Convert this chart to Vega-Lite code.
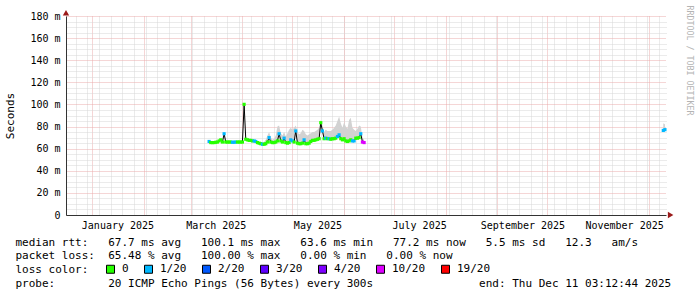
{
  "$schema": "https://vega.github.io/schema/vega-lite/v6.json",
  "width": 600,
  "height": 199,
  "autosize": {"type": "none"},
  "padding": {"left": 66, "top": 16, "right": 31, "bottom": 82},
  "background": "white",
  "config": {
    "view": {"stroke": null},
    "font": "DejaVu Sans Mono",
    "axis": {"labelFont": "DejaVu Sans Mono", "titleFont": "DejaVu Sans Mono", "titleFontWeight": "normal", "labelColor": "black", "titleColor": "black"}
  },
  "datasets": {
    "rtt": [
      {"t": "2025-03-12", "med": 66.5, "loss": "1/20", "hi": 67.5},
      {"t": "2025-03-13", "med": 65.5, "loss": "0", "hi": 66.5},
      {"t": "2025-03-14", "med": 65.5, "loss": "0", "hi": 66.5},
      {"t": "2025-03-15", "med": 65.5, "loss": "0", "hi": 66.5},
      {"t": "2025-03-16", "med": 65.8, "loss": "0", "hi": 66.8},
      {"t": "2025-03-17", "med": 66, "loss": "0", "hi": 67},
      {"t": "2025-03-18", "med": 67, "loss": "0", "hi": 68},
      {"t": "2025-03-19", "med": 68, "loss": "0", "hi": 69},
      {"t": "2025-03-20", "med": 66, "loss": "0", "hi": 67},
      {"t": "2025-03-21", "med": 73.5, "loss": "1/20", "hi": 75},
      {"t": "2025-03-22", "med": 66, "loss": "0", "hi": 67},
      {"t": "2025-03-23", "med": 66, "loss": "0", "hi": 67},
      {"t": "2025-03-24", "med": 66, "loss": "0", "hi": 67},
      {"t": "2025-03-25", "med": 66, "loss": "0", "hi": 67},
      {"t": "2025-03-26", "med": 65.8, "loss": "1/20", "hi": 67},
      {"t": "2025-03-27", "med": 65.8, "loss": "1/20", "hi": 67},
      {"t": "2025-03-28", "med": 66, "loss": "1/20", "hi": 67},
      {"t": "2025-03-29", "med": 66, "loss": "0", "hi": 67},
      {"t": "2025-03-30", "med": 66, "loss": "0", "hi": 67},
      {"t": "2025-03-31", "med": 66, "loss": "0", "hi": 67},
      {"t": "2025-04-01", "med": 66, "loss": "0", "hi": 67},
      {"t": "2025-04-02", "med": 100.1, "loss": "0", "hi": 101},
      {"t": "2025-04-03", "med": 68.5, "loss": "0", "hi": 69.5},
      {"t": "2025-04-04", "med": 68, "loss": "0", "hi": 69},
      {"t": "2025-04-05", "med": 67.5, "loss": "0", "hi": 68.5},
      {"t": "2025-04-06", "med": 67.5, "loss": "0", "hi": 68.5},
      {"t": "2025-04-07", "med": 67, "loss": "0", "hi": 68},
      {"t": "2025-04-08", "med": 67, "loss": "1/20", "hi": 68},
      {"t": "2025-04-09", "med": 66.5, "loss": "1/20", "hi": 67.5},
      {"t": "2025-04-10", "med": 65.5, "loss": "0", "hi": 66.5},
      {"t": "2025-04-11", "med": 65, "loss": "0", "hi": 66},
      {"t": "2025-04-12", "med": 64.5, "loss": "0", "hi": 65.5},
      {"t": "2025-04-13", "med": 64, "loss": "1/20", "hi": 66},
      {"t": "2025-04-14", "med": 64, "loss": "0", "hi": 66},
      {"t": "2025-04-15", "med": 64.5, "loss": "0", "hi": 68},
      {"t": "2025-04-16", "med": 66, "loss": "0", "hi": 72},
      {"t": "2025-04-17", "med": 70, "loss": "1/20", "hi": 75},
      {"t": "2025-04-18", "med": 66, "loss": "0", "hi": 70},
      {"t": "2025-04-19", "med": 65.5, "loss": "0", "hi": 68},
      {"t": "2025-04-20", "med": 65.5, "loss": "0", "hi": 69},
      {"t": "2025-04-21", "med": 66, "loss": "0", "hi": 72},
      {"t": "2025-04-22", "med": 67, "loss": "0", "hi": 80},
      {"t": "2025-04-23", "med": 73.5, "loss": "1/20", "hi": 81},
      {"t": "2025-04-24", "med": 67, "loss": "0", "hi": 74},
      {"t": "2025-04-25", "med": 66, "loss": "0", "hi": 72},
      {"t": "2025-04-26", "med": 69.5, "loss": "1/20", "hi": 75},
      {"t": "2025-04-27", "med": 65.5, "loss": "0", "hi": 71},
      {"t": "2025-04-28", "med": 65, "loss": "0", "hi": 74},
      {"t": "2025-04-29", "med": 65.5, "loss": "0", "hi": 77},
      {"t": "2025-04-30", "med": 68, "loss": "1/20", "hi": 79},
      {"t": "2025-05-01", "med": 67, "loss": "1/20", "hi": 77},
      {"t": "2025-05-02", "med": 66, "loss": "0", "hi": 79},
      {"t": "2025-05-03", "med": 76, "loss": "1/20", "hi": 81},
      {"t": "2025-05-04", "med": 65, "loss": "0", "hi": 75},
      {"t": "2025-05-05", "med": 64.5, "loss": "0", "hi": 73},
      {"t": "2025-05-06", "med": 64.5, "loss": "0", "hi": 74},
      {"t": "2025-05-07", "med": 65, "loss": "0", "hi": 77},
      {"t": "2025-05-08", "med": 68, "loss": "1/20", "hi": 76},
      {"t": "2025-05-09", "med": 64.5, "loss": "0", "hi": 73},
      {"t": "2025-05-10", "med": 64.5, "loss": "0", "hi": 72},
      {"t": "2025-05-11", "med": 65, "loss": "0", "hi": 73},
      {"t": "2025-05-12", "med": 66.5, "loss": "0", "hi": 74},
      {"t": "2025-05-13", "med": 67.5, "loss": "0", "hi": 75},
      {"t": "2025-05-14", "med": 67.5, "loss": "0", "hi": 75},
      {"t": "2025-05-15", "med": 68, "loss": "0", "hi": 76},
      {"t": "2025-05-16", "med": 68.5, "loss": "0", "hi": 77},
      {"t": "2025-05-17", "med": 69, "loss": "0", "hi": 79},
      {"t": "2025-05-18", "med": 83.5, "loss": "0", "hi": 86},
      {"t": "2025-05-19", "med": 76, "loss": "1/20", "hi": 81},
      {"t": "2025-05-20", "med": 69, "loss": "0", "hi": 75},
      {"t": "2025-05-21", "med": 69.5, "loss": "1/20", "hi": 77},
      {"t": "2025-05-22", "med": 69, "loss": "0", "hi": 76},
      {"t": "2025-05-23", "med": 69, "loss": "1/20", "hi": 76},
      {"t": "2025-05-24", "med": 68.5, "loss": "0", "hi": 76},
      {"t": "2025-05-25", "med": 69, "loss": "0", "hi": 77},
      {"t": "2025-05-26", "med": 69, "loss": "0", "hi": 79},
      {"t": "2025-05-27", "med": 69.5, "loss": "0", "hi": 81},
      {"t": "2025-05-28", "med": 71, "loss": "1/20", "hi": 85},
      {"t": "2025-05-29", "med": 72.5, "loss": "1/20", "hi": 89},
      {"t": "2025-05-30", "med": 69, "loss": "0", "hi": 83},
      {"t": "2025-05-31", "med": 68, "loss": "0", "hi": 79},
      {"t": "2025-06-01", "med": 69, "loss": "0", "hi": 84},
      {"t": "2025-06-02", "med": 67, "loss": "0", "hi": 80},
      {"t": "2025-06-03", "med": 66.5, "loss": "0", "hi": 78},
      {"t": "2025-06-04", "med": 67, "loss": "0", "hi": 86},
      {"t": "2025-06-05", "med": 68, "loss": "0", "hi": 88},
      {"t": "2025-06-06", "med": 67, "loss": "1/20", "hi": 79},
      {"t": "2025-06-07", "med": 67, "loss": "1/20", "hi": 77},
      {"t": "2025-06-08", "med": 69.5, "loss": "0", "hi": 76},
      {"t": "2025-06-09", "med": 69.5, "loss": "0", "hi": 78},
      {"t": "2025-06-10", "med": 70, "loss": "0", "hi": 81},
      {"t": "2025-06-11", "med": 73.5, "loss": "1/20", "hi": 80},
      {"t": "2025-06-12", "med": 66, "loss": "10/20", "hi": 70},
      {"t": "2025-06-13", "med": 65.5, "loss": "10/20", "hi": 68},
      {"t": "2025-09-01", "med": null, "loss": null, "hi": null},
      {"t": "2025-12-09T12:00:00Z", "med": 76.5, "loss": "1/20", "hi": 83},
      {"t": "2025-12-10T12:00:00Z", "med": 77.2, "loss": "1/20", "hi": 82}
    ]
  },
  "resolve": {"axis": {"x": "independent", "y": "independent"}},
  "layer": [
    {
      "data": {"name": "rtt"},
      "mark": {"type": "area", "color": "#d2d2d2", "invalid": "break-paths-filter-domains"},
      "encoding": {
        "x": {
          "field": "t", "type": "temporal",
          "scale": {"type": "utc", "domain": [{"year": 2024, "month": 12, "date": 16, "hours": 3, "minutes": 12, "seconds": 44, "utc": true}, {"year": 2025, "month": 12, "date": 11, "hours": 3, "minutes": 12, "seconds": 44, "utc": true}]},
          "axis": {"orient": "top", "grid": true, "gridColor": "#d6d6d6", "gridDash": [1, 1], "gridWidth": 1, "tickCount": {"interval": "week", "step": 1}, "labels": false, "ticks": false, "domain": false, "title": null}
        },
        "y": {
          "field": "med", "type": "quantitative",
          "scale": {"domain": [0, 180], "nice": false, "zero": false},
          "axis": {"orient": "right", "values": [5,10,15,25,30,35,45,50,55,65,70,75,85,90,95,105,110,115,125,130,135,145,150,155,165,170,175], "grid": true, "gridColor": "#d6d6d6", "gridDash": [1, 1], "labels": false, "ticks": false, "domain": false,
                   "title": "RRDTOOL / TOBI OETIKER", "titleAngle": 90, "titleFontSize": 8.3, "titleColor": "#b4b4b4", "titleAlign": "left", "titleBaseline": "middle", "titleX": 22, "titleY": -11}
        },
        "y2": {"field": "hi"}
      }
    },
    {
      "data": {"name": "rtt"},
      "mark": {"type": "line", "color": "black", "strokeWidth": 1, "invalid": "break-paths-filter-domains"},
      "encoding": {
        "x": {
          "field": "t", "type": "temporal",
          "scale": {"type": "utc", "domain": [{"year": 2024, "month": 12, "date": 16, "hours": 3, "minutes": 12, "seconds": 44, "utc": true}, {"year": 2025, "month": 12, "date": 11, "hours": 3, "minutes": 12, "seconds": 44, "utc": true}]},
          "axis": {"orient": "top", "grid": true, "gridColor": "#eaacac", "gridDash": [1, 1], "gridWidth": 1, "tickCount": {"interval": "month", "step": 1}, "labels": false, "ticks": false, "domain": false, "title": null}
        },
        "y": {
          "field": "med", "type": "quantitative",
          "scale": {"domain": [0, 180], "nice": false, "zero": false},
          "axis": {"orient": "left", "values": [0,20,40,60,80,100,120,140,160,180], "grid": true, "gridColor": "#eaacac", "gridDash": [1, 1],
                   "labelExpr": "datum.value == 0 ? '0' : datum.value + ' m'", "labelFontSize": 10, "labelPadding": 6, "ticks": false,
                   "domain": true, "domainColor": "#333333", "domainWidth": 1,
                   "title": "Seconds", "titleFontSize": 11, "titlePadding": 14}
        }
      }
    },
    {
      "data": {"name": "rtt"},
      "mark": {"type": "point", "shape": "square", "filled": true, "size": 10, "opacity": 1},
      "encoding": {
        "x": {
          "field": "t", "type": "temporal",
          "scale": {"type": "utc", "domain": [{"year": 2024, "month": 12, "date": 16, "hours": 3, "minutes": 12, "seconds": 44, "utc": true}, {"year": 2025, "month": 12, "date": 11, "hours": 3, "minutes": 12, "seconds": 44, "utc": true}]},
          "axis": {"orient": "bottom", "grid": false,
                   "values": [{"year": 2025, "month": 1, "date": 16, "utc": true}, {"year": 2025, "month": 3, "date": 16, "utc": true}, {"year": 2025, "month": 5, "date": 16, "utc": true}, {"year": 2025, "month": 7, "date": 16, "utc": true}, {"year": 2025, "month": 9, "date": 16, "utc": true}, {"year": 2025, "month": 11, "date": 16, "utc": true}],
                   "labelExpr": "utcFormat(datum.value, '%B %Y')", "labelFontSize": 10, "labelPadding": 5, "ticks": false, "labelFlush": false, "labelOverlap": false,
                   "domain": true, "domainColor": "#333333", "domainWidth": 1,
                   "title": ["median\u00a0rtt:\u00a0\u00a0\u00a067.7\u00a0ms\u00a0avg\u00a0\u00a0\u00a0100.1\u00a0ms\u00a0max\u00a0\u00a0\u00a063.6\u00a0ms\u00a0min\u00a0\u00a0\u00a077.2\u00a0ms\u00a0now\u00a0\u00a0\u00a05.5\u00a0ms\u00a0sd\u00a0\u00a0\u00a012.3\u00a0\u00a0\u00a0am/s",
                             "packet\u00a0loss:\u00a0\u00a065.48\u00a0%\u00a0avg\u00a0\u00a0\u00a0100.00\u00a0%\u00a0max\u00a0\u00a0\u00a00.00\u00a0%\u00a0min\u00a0\u00a0\u00a00.00\u00a0%\u00a0now",
                             "loss\u00a0color:",
                             "probe:\u00a0\u00a0\u00a0\u00a0\u00a0\u00a0\u00a0\u00a020\u00a0ICMP\u00a0Echo\u00a0Pings\u00a0(56\u00a0Bytes)\u00a0every\u00a0300s\u00a0\u00a0\u00a0\u00a0\u00a0\u00a0\u00a0\u00a0\u00a0\u00a0\u00a0\u00a0\u00a0\u00a0\u00a0\u00a0end:\u00a0Thu\u00a0Dec\u00a011\u00a003:12:44\u00a02025"],
                   "titleFontSize": 11, "titleAnchor": "start", "titleAlign": "left", "titleBaseline": "top", "titleX": -51, "titleY": 21, "titleLineHeight": 13.8}
        },
        "y": {
          "field": "med", "type": "quantitative",
          "scale": {"domain": [0, 180], "nice": false, "zero": false},
          "axis": null
        },
        "color": {
          "field": "loss", "type": "nominal",
          "scale": {"domain": ["0", "1/20", "2/20", "3/20", "4/20", "10/20", "19/20"], "range": ["#26ff00", "#00b8ff", "#0059ff", "#5e00ff", "#7e00ff", "#dd00ff", "#ff0000"]},
          "legend": {"orient": "none", "legendX": 39, "legendY": 247.5, "direction": "horizontal", "title": null,
                     "labelFont": "DejaVu Sans Mono", "labelFontSize": 11, "labelColor": "black", "labelOffset": 6, "columnPadding": 13,
                     "symbolType": "square", "symbolSize": 64, "symbolStrokeColor": "black", "symbolStrokeWidth": 1, "symbolOpacity": 1, "padding": 0,
                     "encode": {"symbols": {"update": {"stroke": {"value": "black"}, "strokeWidth": {"value": 1}}}}}
        }
      }
    },
    {
      "data": {"values": [{"t": "2024-12-16T03:12:44Z", "v": 183}]},
      "mark": {"type": "point", "shape": "triangle-up", "filled": true, "size": 40, "color": "#9b1b1b", "opacity": 1},
      "encoding": {
        "x": {"field": "t", "type": "temporal", "scale": {"type": "utc"}, "axis": null},
        "y": {"field": "v", "type": "quantitative", "axis": null}
      }
    },
    {
      "data": {"values": [{"t": "2025-12-13T22:00:00Z", "v": 0}]},
      "mark": {"type": "point", "shape": "triangle-right", "filled": true, "size": 40, "color": "#9b1b1b", "opacity": 1},
      "encoding": {
        "x": {"field": "t", "type": "temporal", "scale": {"type": "utc"}, "axis": null},
        "y": {"field": "v", "type": "quantitative", "axis": null}
      }
    }
  ]
}
